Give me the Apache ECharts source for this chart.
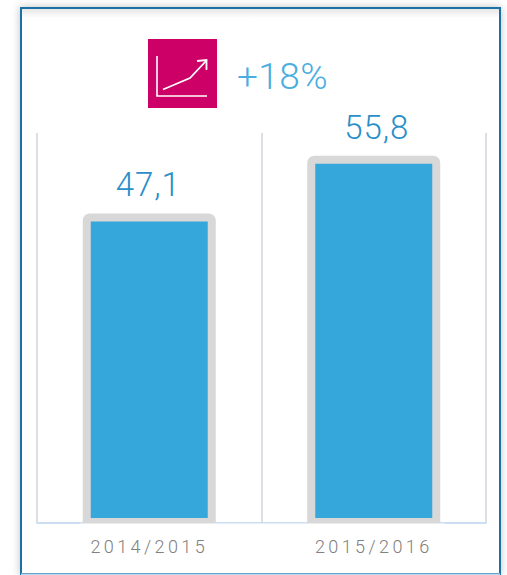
<!DOCTYPE html>
<html><head><meta charset="utf-8">
<style>html,body{margin:0;padding:0;background:#fff}#c{width:507px;height:575px}
#c text[fill="#808080"],#c text[style*="#808080"]{letter-spacing:3.4px}
#c text[fill="#2a8fc8"],#c text[style*="#2a8fc8"]{letter-spacing:1px}
#c text[fill="#4aaee0"],#c text[style*="#4aaee0"]{letter-spacing:.4px}
</style>
<script src="https://cdn.jsdelivr.net/npm/echarts@6/dist/echarts.min.js"></script></head>
<body><div id="c"></div>
<script>
const categories = ['2014/2015','2015/2016'];
const values = [47.1,55.8];
const growthLabel = '+18%';
const chart = echarts.init(document.getElementById('c'),null,{renderer:'svg'});
const white='#ffffff';
const iconLine=(pts,w)=>({type:'polyline',z:12,shape:{points:pts},style:{stroke:white,lineWidth:w,fill:null}});
chart.setOption({
  animation:false,
  backgroundColor:'#fff',
  grid:{left:37,right:21,top:133,bottom:52.5,containLabel:false},
  xAxis:{type:'category',data:categories,
    axisLine:{show:true,onZero:false,lineStyle:{color:'#bcd4ee',width:1.5}},
    axisTick:{show:false},
    axisLabel:{color:'#808080',fontFamily:'Roboto',fontWeight:300,fontSize:18,margin:15},
    splitLine:{show:true,lineStyle:{color:'#dcdfe3',width:2}}},
  yAxis:{type:'value',min:0.5275,max:59.23,show:false},
  series:[{type:'bar',data:values,barWidth:133,z:3,clip:true,
    itemStyle:{color:'#36a7da',borderColor:'#d8d8d8',borderWidth:8,borderRadius:[3,3,0,0]},
    label:{show:true,position:'top',distance:12,color:'#2a8fc8',fontFamily:'Roboto',fontWeight:300,fontSize:33,
      formatter:p=>String(p.value).replace('.',',')},
    labelLayout:p=>({dx:p.dataIndex?3:-1})}],
  graphic:[
    {type:'rect',z:-5,silent:true,shape:{x:21,y:8,width:479,height:566},
      style:{fill:'#fff',stroke:'#1a6fa8',lineWidth:2,shadowBlur:8,shadowColor:'rgba(0,0,0,0.25)'}},
    {type:'rect',z:-4,silent:true,shape:{x:22,y:9,width:477,height:9},
      style:{fill:new echarts.graphic.LinearGradient(0,0,0,1,[{offset:0,color:'#e6e6e6'},{offset:1,color:'#ffffff'}])}},
    {type:'line',z:-3,silent:true,shape:{x1:21,y1:574.5,x2:500,y2:574.5},style:{stroke:'#b7d8ec',lineWidth:2}},
    {type:'rect',z:11,silent:true,shape:{x:80,y:523.4,width:365,height:5},style:{fill:'#fff'}},
    {type:'rect',z:11,shape:{x:148,y:39,width:69,height:69},style:{fill:'#cc0066'}},
    iconLine([[157,56],[157,96],[207,96]],1.6),
    iconLine([[163,89.5],[190,78],[206,61]],1.8),
    iconLine([[197,61],[206.5,60],[206.5,70]],1.8),
    {type:'text',z:12,x:237,y:58,style:{text:growthLabel,fill:'#4aaee0',fontFamily:'Roboto',fontWeight:300,fontSize:37}}
  ]
});
</script></body></html>
